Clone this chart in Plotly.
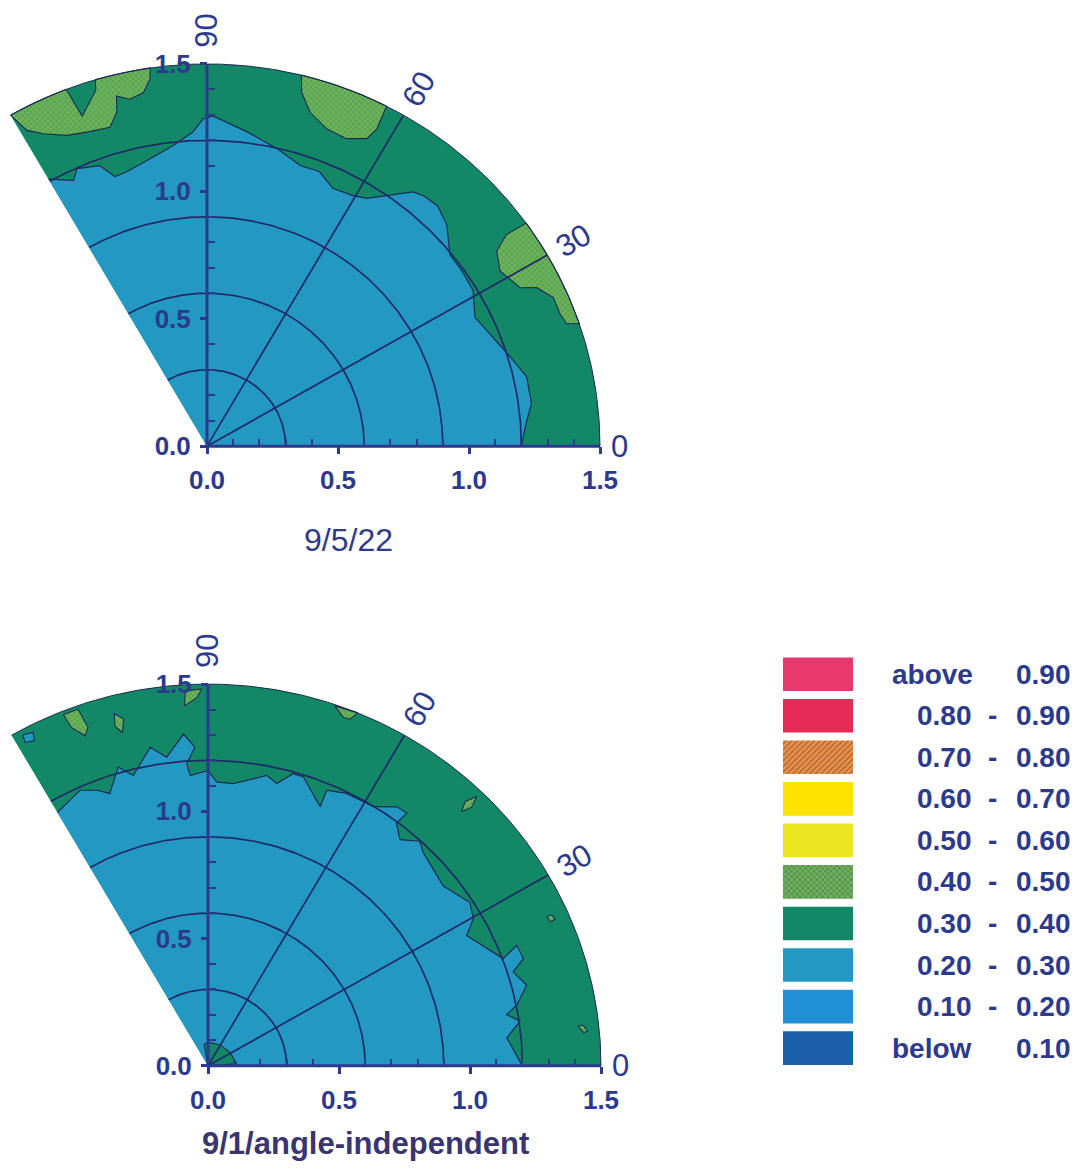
import numpy as np
import plotly.graph_objects as go

# ---------------- data ----------------
LEVEL_LABELS = ["above 0.90", "0.80 - 0.90", "0.70 - 0.80", "0.60 - 0.70", "0.50 - 0.60",
                "0.40 - 0.50", "0.30 - 0.40", "0.20 - 0.30", "0.10 - 0.20", "below 0.10"]
LEVEL_COLORS = ["#e8386e", "#e52b55", "#f38f45", "#fde300", "#ebe61f",
                "#6bb25a", "#128866", "#2398c3", "#2290d6", "#1b5fa8"]
LEVEL_PATTERNS = ["", "", "/", "", "", "x", "", "", "", ""]
LEVEL_PATTERN_FG = ["#e8386e", "#e52b55", "#e2552e", "#fde300", "#ebe61f",
                    "#38883e", "#128866", "#2398c3", "#2290d6", "#1b5fa8"]

ANGLE_TICKS = [0, 30, 60, 90]
AXIS_TICKS = [0.0, 0.5, 1.0, 1.5]
AXIS_TICK_TEXT = ["0.0", "0.5", "1.0", "1.5"]
AXIS_MINOR_TICKS = [0.1, 0.2, 0.3, 0.4, 0.6, 0.7, 0.8, 0.9, 1.1, 1.2, 1.3, 1.4]
GRID_RADII = [0.3, 0.6, 0.9, 1.2]
SPOKE_ANGLES = [30, 60]
R_MAX = 1.5
THETA_MAX = 120

# ---- top panel "9/5/22": background level 0.30-0.40 ----
TOP_TITLE = "9/5/22"
# boundary between 0.20-0.30 (inside) and 0.30-0.40 (outside), path (deg, radius)
TOP_INNER_THETA = [0, 4, 7.7, 12.6, 16.8, 22.2, 26.3, 31, 35.3, 39, 43.5, 47, 50, 51.8,
                   56, 57.9, 60.5, 64.6, 68.3, 72, 77, 82.9, 89, 90.7, 92.5, 96.3, 100.9,
                   105.8, 108.4, 110.4, 114.5, 116, 120]
TOP_INNER_R = [1.20, 1.22, 1.25, 1.25, 1.21, 1.166, 1.141, 1.185, 1.192, 1.193, 1.262, 1.29,
               1.284, 1.27, 1.18, 1.148, 1.13, 1.12, 1.16, 1.157, 1.197, 1.243, 1.296, 1.284,
               1.234, 1.186, 1.149, 1.12, 1.115, 1.175, 1.197, 1.161, 1.21]
# 0.40-0.50 patches
TOP_PATCH_A_THETA = [120, 119.0, 117.0, 113.7, 110.4, 106.5, 104.7, 104.1, 102.2, 99.9, 98.6,
                     98.3, 106.5, 106.9, 110.2, 111]
TOP_PATCH_A_R = [1.5, 1.417, 1.376, 1.332, 1.315, 1.305, 1.355, 1.417, 1.393, 1.409, 1.456,
                 1.5, 1.5, 1.46, 1.38, 1.5]
TOP_PATCH_B_THETA = [76.1, 75.4, 73.3, 69.8, 66.2, 63.2, 62.5, 62.8]
TOP_PATCH_B_R = [1.5, 1.434, 1.368, 1.326, 1.319, 1.352, 1.404, 1.5]
TOP_PATCH_C_THETA = [35.7, 36.0, 34.7, 31.6, 27.5, 26.3, 23.8, 21.1, 19.3, 18.7]
TOP_PATCH_C_R = [1.5, 1.413, 1.345, 1.313, 1.347, 1.404, 1.445, 1.444, 1.454, 1.5]

# ---- bottom panel "9/1/angle-independent" ----
BOT_TITLE = "9/1/angle-independent"
BOT_INNER_THETA = [0, 0.9, 5.5, 8.4, 10, 11.5, 14.6, 17.6, 19.3, 21.9, 20.5, 27.4, 29.7, 32.7,
                   38.2, 45.5, 47.5, 50.5, 53, 52.6, 54.7, 58.2, 60.9, 63.7, 67.3, 67.2, 72.2,
                   74.2, 76.7, 78.9, 85, 88.3, 90, 93.4, 93.9, 92.3, 94.1, 97.4, 100, 104,
                   106.3, 109.3, 111.4, 114.3, 119.3, 120]
BOT_INNER_R = [1.2, 1.19, 1.146, 1.204, 1.158, 1.203, 1.257, 1.222, 1.275, 1.27, 1.203, 1.112,
               1.166, 1.188, 1.143, 1.173, 1.197, 1.152, 1.195, 1.25, 1.247, 1.198, 1.194,
               1.194, 1.174, 1.104, 1.192, 1.193, 1.14, 1.163, 1.113, 1.116, 1.161, 1.143,
               1.19, 1.253, 1.307, 1.223, 1.271, 1.176, 1.223, 1.134, 1.163, 1.188, 1.153, 1.15]
# small 0.40-0.50 spots
BOT_SPOT_1_THETA = [111.8, 109.5, 109.0, 109.9, 111.4]
BOT_SPOT_1_R = [1.487, 1.486, 1.406, 1.379, 1.428]
BOT_SPOT_2_THETA = [93.4, 90.9, 91.7, 93.6]
BOT_SPOT_2_R = [1.476, 1.481, 1.447, 1.417]
BOT_SPOT_3_THETA = [104.5, 103.3, 104.0, 104.9]
BOT_SPOT_3_R = [1.43, 1.40, 1.35, 1.38]
BOT_SPOT_4_THETA = [71.1, 67.6, 68.3, 69.3]
BOT_SPOT_4_R = [1.495, 1.5, 1.466, 1.463]
BOT_SPOT_5_THETA = [45.9, 45.3, 45.9, 46.6]
BOT_SPOT_5_R = [1.39, 1.43, 1.475, 1.43]
BOT_SPOT_6_THETA = [24.4, 23.4, 23.5, 24.3]
BOT_SPOT_6_R = [1.42, 1.425, 1.445, 1.44]
BOT_SPOT_7_THETA = [6.3, 5.2, 5.4, 6.4]
BOT_SPOT_7_R = [1.42, 1.44, 1.455, 1.44]
# 0.30-0.40 region at the origin
BOT_CORE_THETA = [0, 4, 30, 60, 90, 100]
BOT_CORE_R = [0.0, 0.11, 0.10, 0.095, 0.093, 0.085]
# small 0.20-0.30 spot inside the outer band
BOT_HOLE_THETA = [118.5, 117.0, 117.4, 118.8]
BOT_HOLE_R = [1.48, 1.47, 1.44, 1.45]

# ---------------- style / layout constants ----------------
FONT = "Liberation Sans, Arial, Helvetica, sans-serif"
NAVY = "#2c3a8e"
GRID = "#1f2a66"
CONTOUR = "#1c2a52"
W, H = 1081, 1175
SX = 262.0          # px per unit, horizontal
X_LO, X_HI = -0.79, 1.65
Y_LO, Y_HI = -0.02, 1.72

PANELS = [
    dict(ox=207, oy=450, sy=257.0, xa="x", ya="y", title=TOP_TITLE, tpos=(348, 545),
         tcolor="#2f3b88", tsize=32, tweight="normal"),
    dict(ox=208, oy=1075, sy=256.7, xa="x2", ya="y2", title=BOT_TITLE, tpos=(365, 1153),
         tcolor="#3a3470", tsize=31, tweight="bold"),
]


def polar_path(theta, r, close=True):
    th = list(theta)
    rr = list(r)
    if close:
        th.append(th[0])
        rr.append(rr[0])
    ot, orr = [th[0]], [rr[0]]
    for i in range(1, len(th)):
        if rr[i - 1] >= R_MAX - 1e-9 and rr[i] >= R_MAX - 1e-9:
            seg = np.linspace(th[i - 1], th[i], 40)[1:]
            ot += list(seg)
            orr += [R_MAX] * len(seg)
        else:
            ot.append(th[i])
            orr.append(rr[i])
    t = np.radians(ot)
    rr = np.array(orr)
    return rr * np.cos(t), rr * np.sin(t)


def fill_trace(theta, r, level, xa, ya, outline=True):
    x, y = polar_path(theta, r)
    kw = dict(x=x, y=y, mode="lines", fill="toself", fillcolor=LEVEL_COLORS[level],
              line=dict(width=1.1 if outline else 0, color=CONTOUR),
              hoverinfo="skip", showlegend=False, xaxis=xa, yaxis=ya)
    if LEVEL_PATTERNS[level]:
        kw["fillpattern"] = dict(shape=LEVEL_PATTERNS[level], fgcolor=LEVEL_PATTERN_FG[level],
                                 bgcolor=LEVEL_COLORS[level], size=4, solidity=0.35)
    return go.Scatter(**kw)


def line_trace(x, y, xa, ya, color, width):
    return go.Scatter(x=x, y=y, mode="lines", line=dict(color=color, width=width),
                      hoverinfo="skip", showlegend=False, xaxis=xa, yaxis=ya)


fig = go.Figure()

panel_data = [
    dict(base=6, inner=(TOP_INNER_THETA, TOP_INNER_R, 7),
         patches=[(TOP_PATCH_A_THETA, TOP_PATCH_A_R, 5), (TOP_PATCH_B_THETA, TOP_PATCH_B_R, 5),
                  (TOP_PATCH_C_THETA, TOP_PATCH_C_R, 5)]),
    dict(base=6, inner=(BOT_INNER_THETA, BOT_INNER_R, 7),
         patches=[(BOT_SPOT_1_THETA, BOT_SPOT_1_R, 5), (BOT_SPOT_2_THETA, BOT_SPOT_2_R, 5),
                  (BOT_SPOT_3_THETA, BOT_SPOT_3_R, 5), (BOT_SPOT_4_THETA, BOT_SPOT_4_R, 5),
                  (BOT_SPOT_5_THETA, BOT_SPOT_5_R, 5), (BOT_SPOT_6_THETA, BOT_SPOT_6_R, 5),
                  (BOT_SPOT_7_THETA, BOT_SPOT_7_R, 5), (BOT_CORE_THETA, BOT_CORE_R, 6),
                  (BOT_HOLE_THETA, BOT_HOLE_R, 7)]),
]

annotations = []
layout_axes = {}

for k, (p, d) in enumerate(zip(PANELS, panel_data)):
    xa, ya = p["xa"], p["ya"]
    # sector in background level
    fig.add_trace(fill_trace([0, 0, THETA_MAX], [0, R_MAX, R_MAX], d["base"], xa, ya,
                             outline=False))
    # inner region
    th, rr, lvl = d["inner"]
    fig.add_trace(fill_trace([0] + th, [0] + rr, lvl, xa, ya, outline=False))
    bx, by = polar_path(th, rr, close=False)
    fig.add_trace(line_trace(bx, by, xa, ya, CONTOUR, 1.2))
    # patches
    for pth, prr, plvl in d["patches"]:
        fig.add_trace(fill_trace(pth, prr, plvl, xa, ya, outline=True))
    # grid arcs
    for rg in GRID_RADII:
        t = np.radians(np.linspace(0, THETA_MAX, 200))
        fig.add_trace(line_trace(rg * np.cos(t), rg * np.sin(t), xa, ya, GRID, 1.7))
    # spokes
    for a in SPOKE_ANGLES:
        t = np.radians(a)
        fig.add_trace(line_trace([0, R_MAX * np.cos(t)], [0, R_MAX * np.sin(t)], xa, ya,
                                 GRID, 1.7))
    # outer rim
    t = np.radians(np.linspace(0, THETA_MAX, 300))
    fig.add_trace(line_trace(R_MAX * np.cos(t), R_MAX * np.sin(t), xa, ya, CONTOUR, 1.0))
    # axis lines
    fig.add_trace(line_trace([0, R_MAX], [0, 0], xa, ya, NAVY, 3))
    fig.add_trace(line_trace([0, 0], [0, R_MAX], xa, ya, NAVY, 3))

    # axes geometry
    left_px = p["ox"] + X_LO * SX
    right_px = p["ox"] + X_HI * SX
    bot_px = p["oy"] - Y_LO * p["sy"]
    top_px = p["oy"] - Y_HI * p["sy"]
    xdom = [max(0, left_px / W), right_px / W]
    ydom = [1 - bot_px / H, 1 - top_px / H]
    common = dict(showgrid=False, zeroline=False, showline=False, tickmode="array",
                  tickvals=AXIS_TICKS, ticktext=AXIS_TICK_TEXT, ticks="outside", ticklen=7,
                  tickwidth=2.5, tickcolor=NAVY, ticklabelstandoff=4,
                  tickfont=dict(size=26, color=NAVY, family=FONT, weight="bold"),
                  minor=dict(tickmode="array", tickvals=AXIS_MINOR_TICKS, ticks="inside",
                             ticklen=7, tickwidth=2, tickcolor=NAVY),
                  fixedrange=True)
    xkey = "xaxis" if xa == "x" else "xaxis" + xa[1:]
    ykey = "yaxis" if ya == "y" else "yaxis" + ya[1:]
    layout_axes[xkey] = dict(common, domain=xdom, range=[X_LO, X_HI], anchor="free",
                             position=1 - p["oy"] / H)
    layout_axes[ykey] = dict(common, domain=ydom, range=[Y_LO, Y_HI], anchor="free",
                             position=p["ox"] / W)

    # angle labels
    for a in ANGLE_TICKS:
        if a == 0:
            ax_, ay_ = 1.575, 0.0
        else:
            rl = 1.63 if a == 90 else 1.615
            ax_, ay_ = rl * np.cos(np.radians(a)), rl * np.sin(np.radians(a))
        annotations.append(dict(x=ax_, y=ay_, xref=xa, yref=ya, text=str(a), showarrow=False,
                                textangle=-a if a else 0, xanchor="center", yanchor="middle",
                                font=dict(size=31, color=NAVY, family=FONT)))
    # panel title
    annotations.append(dict(x=p["tpos"][0] / W, y=1 - p["tpos"][1] / H, xref="paper",
                            yref="paper", text=p["title"], showarrow=False, xanchor="center",
                            yanchor="middle",
                            font=dict(size=p["tsize"], color=p["tcolor"], family=FONT,
                                      weight=p["tweight"])))

# ---------------- legend (colour key) ----------------
ROW0, PITCH = 680.0, 41.9
fig.add_trace(go.Bar(
    y=list(range(len(LEVEL_LABELS))), x=[1] * len(LEVEL_LABELS), orientation="h", width=0.81,
    marker=dict(color=LEVEL_COLORS, line=dict(width=0),
                pattern=dict(shape=LEVEL_PATTERNS, fgcolor=LEVEL_PATTERN_FG,
                             bgcolor=LEVEL_COLORS, size=4, solidity=0.35)),
    hoverinfo="skip", showlegend=False, xaxis="x3", yaxis="y3"))
layout_axes["xaxis3"] = dict(domain=[783 / W, 853 / W], range=[0, 1], visible=False,
                             anchor="y3", fixedrange=True)
layout_axes["yaxis3"] = dict(domain=[1 - (ROW0 + 9.5 * PITCH) / H, 1 - (ROW0 - 0.5 * PITCH) / H],
                             range=[len(LEVEL_LABELS) - 0.5, -0.5], visible=False,
                             anchor="x3", fixedrange=True)

for i, lab in enumerate(LEVEL_LABELS):
    yp = 1 - (ROW0 + PITCH * i) / H
    f = dict(size=28, color=NAVY, family=FONT, weight="bold")
    if lab.startswith("above") or lab.startswith("below"):
        word, val = lab.split()
        annotations.append(dict(x=890 / W, y=yp, xref="paper", yref="paper", text=word,
                                showarrow=False, xanchor="left", yanchor="middle", font=f))
        annotations.append(dict(x=1073 / W, y=yp, xref="paper", yref="paper", text=val,
                                showarrow=False, xanchor="right", yanchor="middle", font=f))
    else:
        lo, hi = [s.strip() for s in lab.split("-")]
        annotations.append(dict(x=974 / W, y=yp, xref="paper", yref="paper", text=lo,
                                showarrow=False, xanchor="right", yanchor="middle", font=f))
        annotations.append(dict(x=992 / W, y=yp, xref="paper", yref="paper", text="-",
                                showarrow=False, xanchor="center", yanchor="middle", font=f))
        annotations.append(dict(x=1073 / W, y=yp, xref="paper", yref="paper", text=hi,
                                showarrow=False, xanchor="right", yanchor="middle", font=f))

fig.update_layout(width=W, height=H, margin=dict(l=0, r=0, t=0, b=0),
                  paper_bgcolor="white", plot_bgcolor="rgba(0,0,0,0)",
                  showlegend=False, annotations=annotations, **layout_axes)

fig.write_html("out.html")
